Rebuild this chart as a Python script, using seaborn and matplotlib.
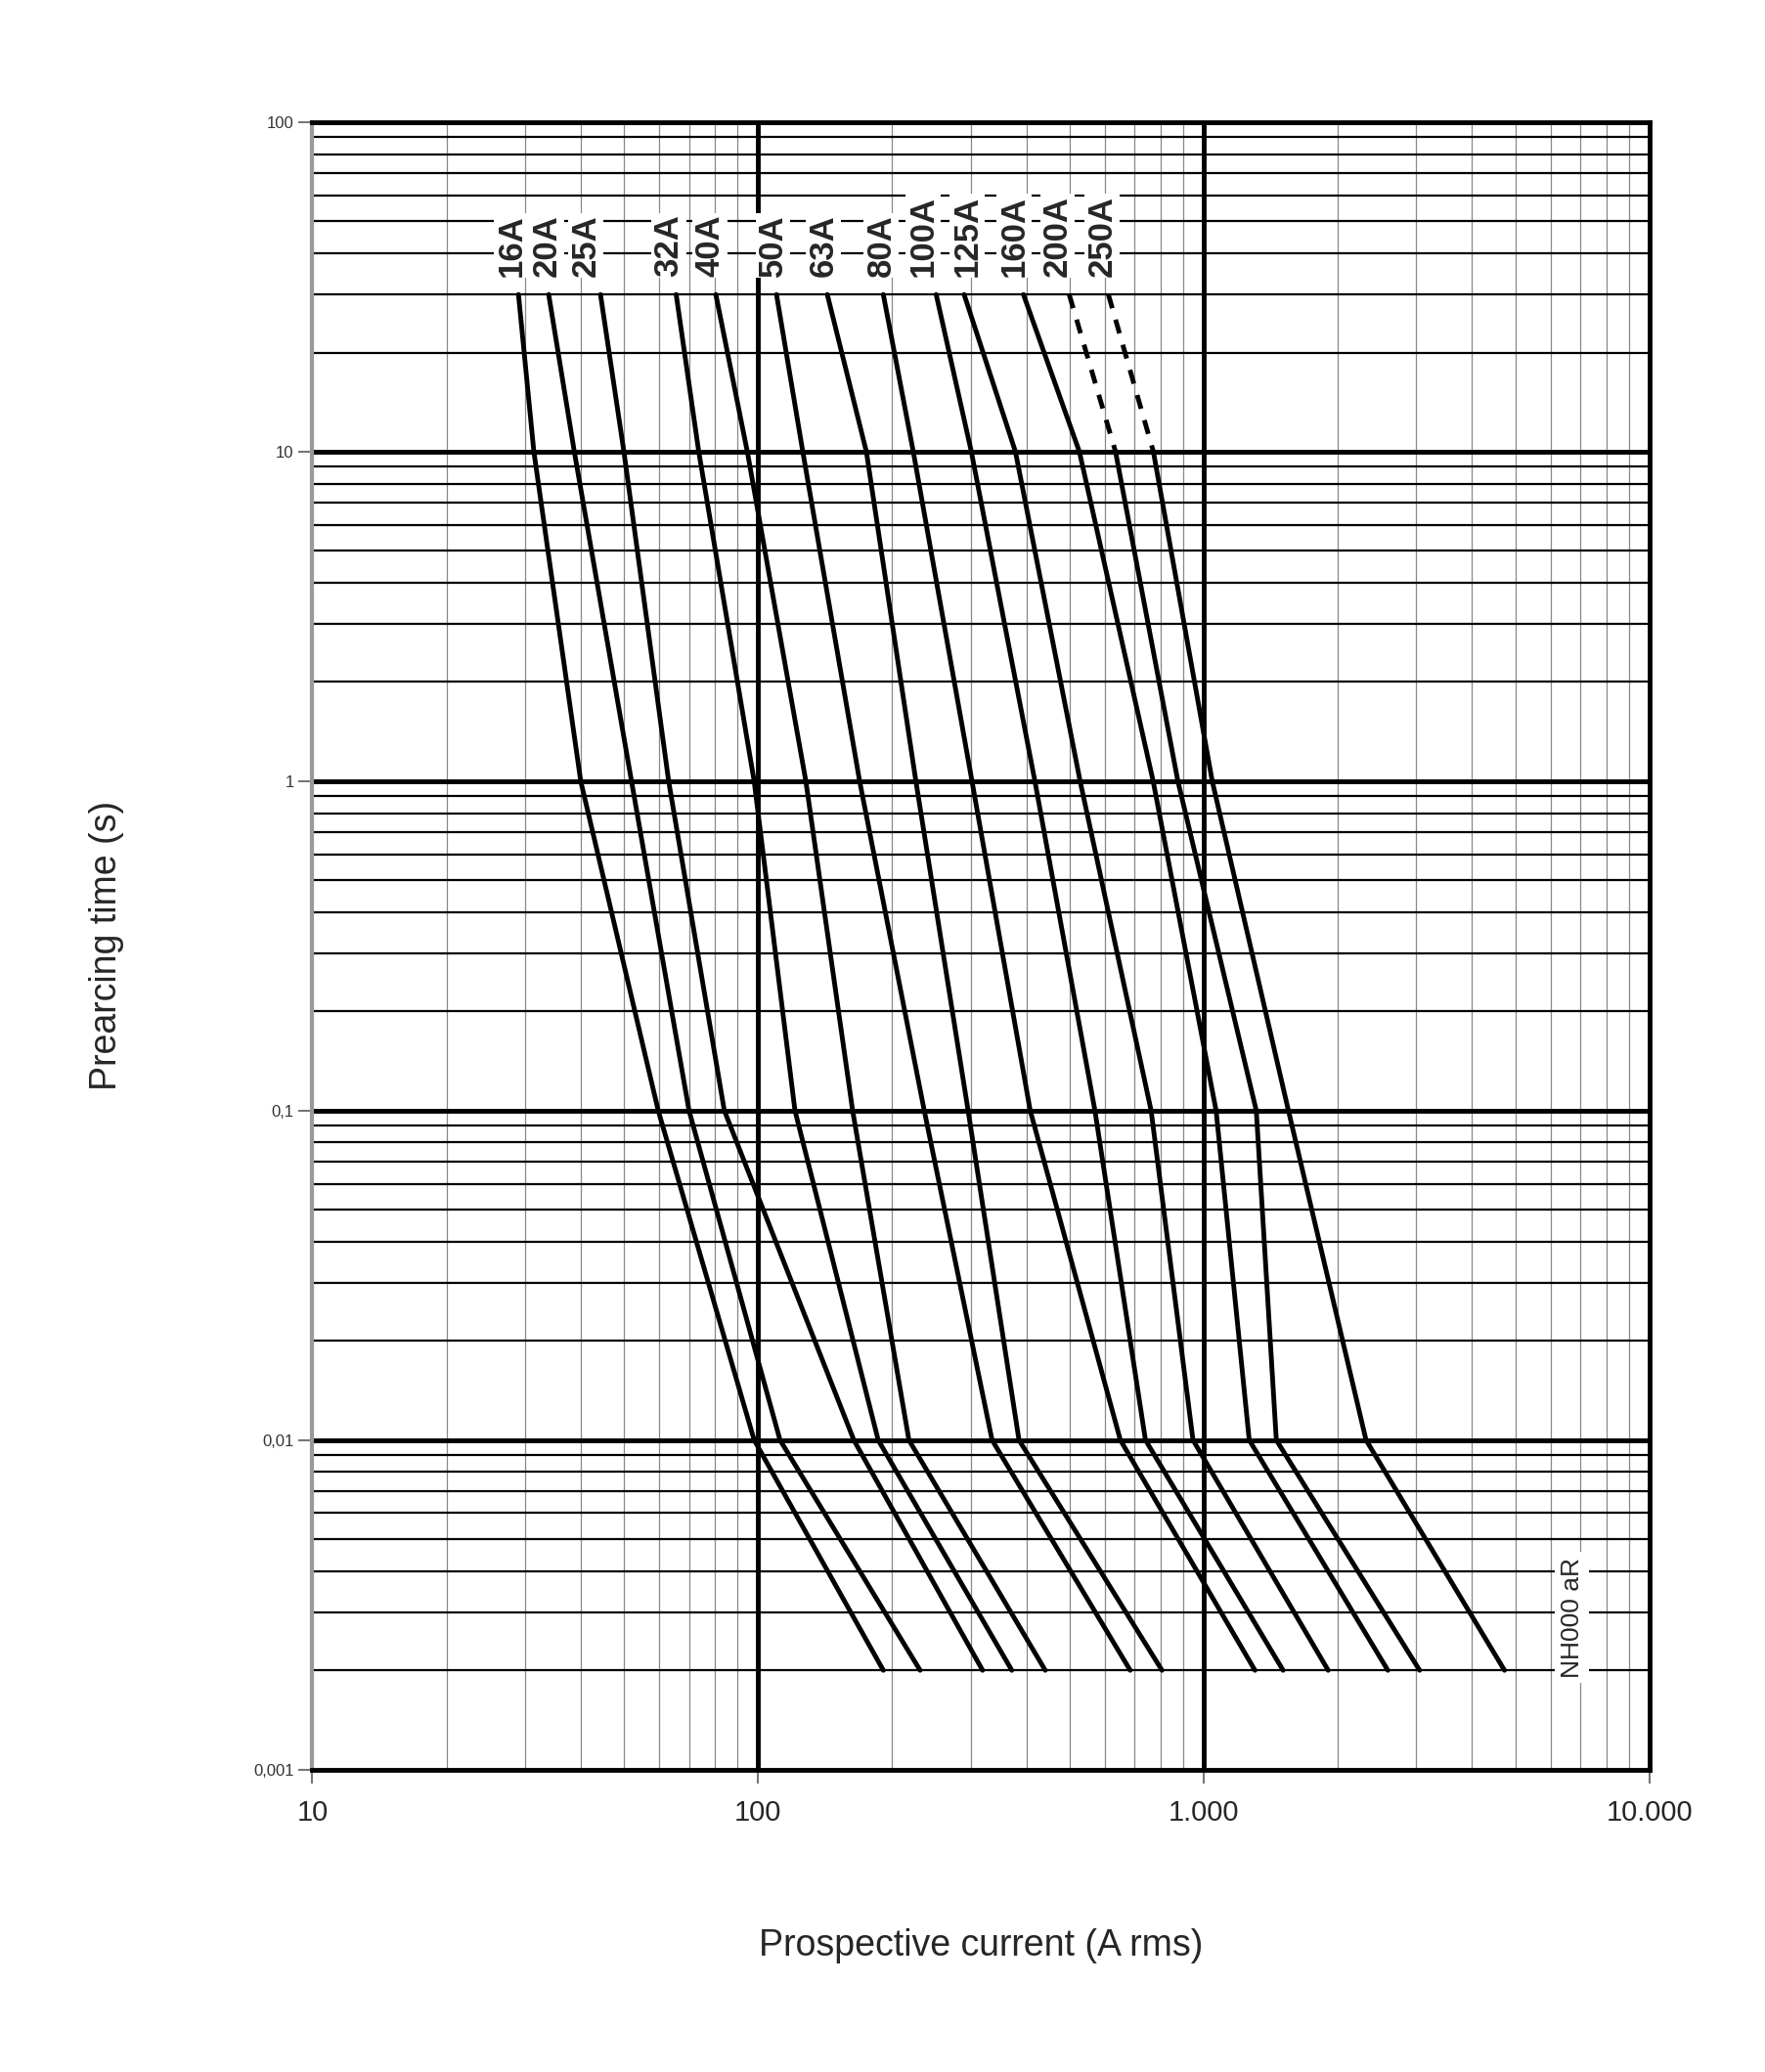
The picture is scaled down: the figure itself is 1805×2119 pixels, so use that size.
import numpy as np
import pandas as pd
import matplotlib
matplotlib.use("Agg")
import matplotlib.pyplot as plt
import seaborn as sns
from matplotlib.ticker import FixedLocator, NullFormatter

sns.set_theme(style="white")
plt.rcParams['font.family'] = ['Liberation Sans', 'DejaVu Sans']

ratings = ["16A", "20A", "25A", "32A", "40A", "50A", "63A", "80A", "100A", "125A", "160A", "200A", "250A"]
times = [30, 10, 1, 0.1, 0.01, 0.002]
i_30s = [29, 33.9, 44.3, 65.5, 80.4, 110, 143, 191, 251, 290, 394, 499, 611]
i_10s = [31.4, 38.7, 50.0, 73.6, 94.6, 126, 175, 223, 301, 378, 526, 634, 771]
i_1s = [40, 52, 63, 98, 128, 169, 226, 302, 418, 528, 770, 875, 1045]
i_01s = [59.7, 70, 84, 121, 163, 236, 296, 408, 570, 762, 1066, 1312, 1549]
i_001s = [98, 112, 164, 186, 218, 335, 385, 650, 740, 946, 1265, 1455, 2313]
i_0002s = [191, 231, 319, 371, 441, 684, 806, 1303, 1507, 1902, 2589, 3051, 4730]
dashed_top = ["200A", "250A"]
label_x = [28, 33.5, 41, 63, 78, 108, 140, 189, 235, 295, 375, 470, 592]

rows = []
for k, r in enumerate(ratings):
    for t, col in zip(times, [i_30s, i_10s, i_1s, i_01s, i_001s, i_0002s]):
        rows.append({"rating": r, "t": t, "I": col[k]})
df = pd.DataFrame(rows)

fig = plt.figure(figsize=(18.05, 21.19), dpi=100)
ax = fig.add_axes([0.177, 0.146, 0.7575, 0.795])
ax.set_xscale('log')
ax.set_yscale('log')
ax.set_xlim(10, 10000)
ax.set_ylim(0.001, 100)

# grid
for d in [10, 100, 1000]:
    for m in range(2, 10):
        ax.axvline(d * m, color='#888888', lw=0.9, zorder=1)
for d in [0.001, 0.01, 0.1, 1, 10]:
    for m in range(2, 10):
        ax.axhline(d * m, color='black', lw=1.6, zorder=1)
for v in [100, 1000]:
    ax.axvline(v, color='black', lw=3.5, zorder=1)
for v in [0.01, 0.1, 1, 10]:
    ax.axhline(v, color='black', lw=3.5, zorder=1)

for r in ratings:
    sub = df[df.rating == r]
    if r in dashed_top:
        solid = sub[sub.t <= 10]
        dash = sub[sub.t >= 10]
        sns.lineplot(data=solid, x="I", y="t", sort=False, estimator=None, color='black', lw=3.5, ax=ax, zorder=3)
        sns.lineplot(data=dash, x="I", y="t", sort=False, estimator=None, color='black', lw=3.5, ax=ax, zorder=3,
                     linestyle=(0, (3, 2.5)))
    else:
        sns.lineplot(data=sub, x="I", y="t", sort=False, estimator=None, color='black', lw=3.5, ax=ax, zorder=3)

for r, x in zip(ratings, label_x):
    ax.text(x, 34, r, rotation=90, ha='center', va='bottom', fontsize=25, fontweight='bold',
            bbox=dict(facecolor='white', edgecolor='none', pad=1), zorder=4)

ax.text(6700, 0.0019, "NH000 aR", rotation=90, ha='center', va='bottom', fontsize=19,
        bbox=dict(facecolor='white', edgecolor='none', pad=4), zorder=4)

for s in ['top', 'right', 'bottom']:
    ax.spines[s].set_color('black')
    ax.spines[s].set_linewidth(3.5)
ax.spines['left'].set_color('#999999')
ax.spines['left'].set_linewidth(3)

ax.xaxis.set_major_locator(FixedLocator([10, 100, 1000, 10000]))
ax.set_xticklabels(["10", "100", "1.000", "10.000"], fontsize=21)
ax.xaxis.set_minor_formatter(NullFormatter())
ax.yaxis.set_major_locator(FixedLocator([0.001, 0.01, 0.1, 1, 10, 100]))
ax.set_yticklabels(["0,001", "0,01", "0,1", "1", "10", "100"], fontsize=12, color='#333333')
ax.yaxis.set_minor_formatter(NullFormatter())
ax.tick_params(axis='both', which='major', length=10, width=1.5, color='#777777', bottom=True, left=True)
ax.tick_params(axis='both', which='minor', length=0)
ax.tick_params(axis='x', pad=12)
ax.grid(False)

ax.set_xlabel("Prospective current (A rms)", fontsize=27, labelpad=75)
ax.set_ylabel("Prearcing time (s)", fontsize=27, labelpad=95)

fig.savefig("out.png", dpi=100, facecolor='white')
